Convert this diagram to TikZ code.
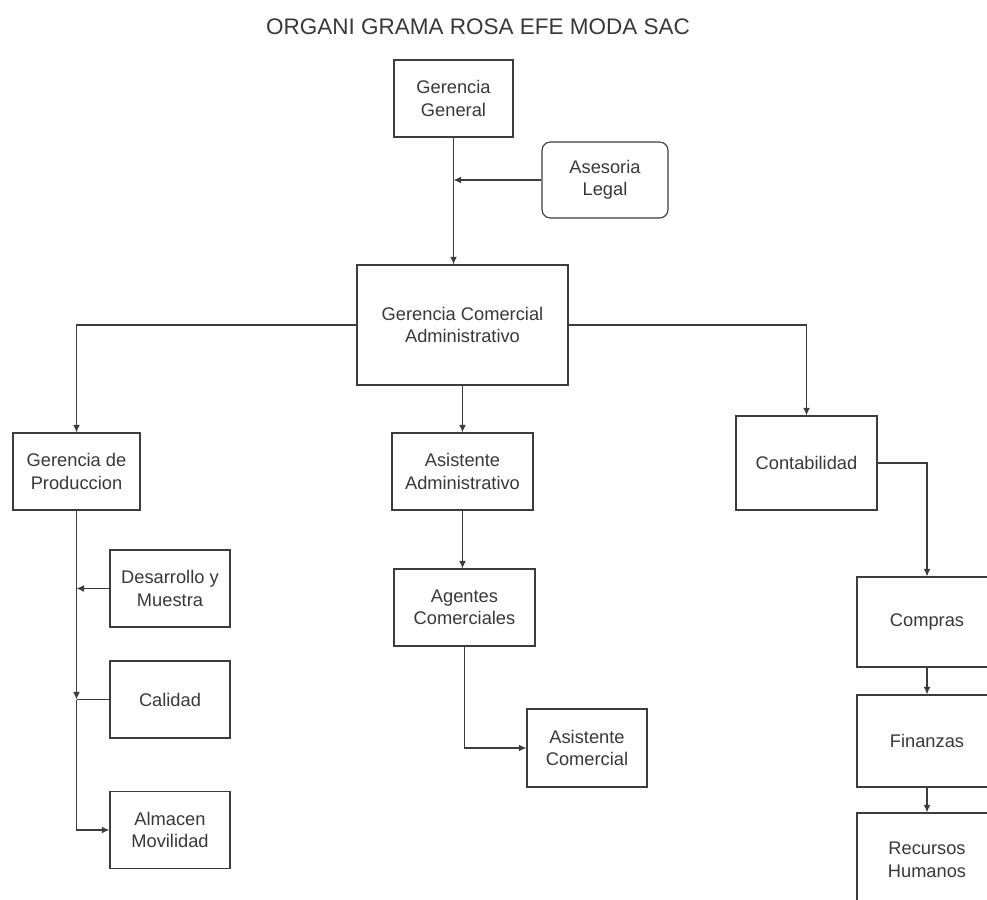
\documentclass[tikz,border=0pt]{standalone}
\usepackage{fontspec}
\setmainfont{Liberation Sans}
\usetikzlibrary{arrows.meta}
\definecolor{linegray}{HTML}{3C3C3C}
\definecolor{textgray}{HTML}{383838}

\begin{document}
\begin{tikzpicture}[x=0.025cm, y=-0.025cm,
    unit/.style ={rectangle, draw=linegray, line width=0.8pt, text=textgray, align=center, font=\fontsize{13}{16}\selectfont, inner sep=2pt},
    link/.style ={draw=linegray, line width=0.8pt, -{Latex[length=1.9mm,width=1.7mm]}},
    plain/.style ={draw=linegray, line width=0.8pt}]
   \useasboundingbox (0,0) rectangle (987,900);
   \clip (0,0) rectangle (987,900);
   \node[text=textgray, font=\fontsize{16}{19}\selectfont] (T) at (478,27) {ORGANI GRAMA ROSA EFE MODA SAC};
   \node[unit, minimum width=2.975cm, minimum height=1.925cm] (GG) at (453.5,98.5) {Gerencia\\General};
   \node[unit, rounded corners=6pt, minimum width=3.15cm, minimum height=1.9cm] (AL) at (605,180) {Asesoria\\Legal};
   \node[unit, minimum width=5.275cm, minimum height=3cm] (GCA) at (462.5,325) {Gerencia Comercial\\Administrativo};
   \node[unit, minimum width=3.175cm, minimum height=1.925cm] (GP) at (76.5,471.5) {Gerencia de\\Produccion};
   \node[unit, minimum width=3.525cm, minimum height=1.925cm] (AA) at (462.5,471.5) {Asistente\\Administrativo};
   \node[unit, minimum width=3.525cm, minimum height=2.35cm] (CO) at (806.5,463) {Contabilidad};
   \node[unit, minimum width=3cm, minimum height=1.925cm] (DM) at (170,588.5) {Desarrollo y\\Muestra};
   \node[unit, minimum width=3cm, minimum height=1.925cm] (CA) at (170,699.5) {Calidad};
   \node[unit, minimum width=3cm, minimum height=1.925cm] (AM) at (170,830) {Almacen\\Movilidad};
   \node[unit, minimum width=3.525cm, minimum height=1.925cm] (AG) at (464.5,607.5) {Agentes\\Comerciales};
   \node[unit, minimum width=3cm, minimum height=1.95cm] (AC) at (587,748) {Asistente\\Comercial};
   \node[unit, minimum width=3.5cm, minimum height=2.25cm] (CP) at (927,622) {Compras};
   \node[unit, minimum width=3.5cm, minimum height=2.3cm] (FI) at (927,741) {Finanzas};
   \node[unit, minimum width=3.5cm, minimum height=2.35cm] (RH) at (927,860) {Recursos\\Humanos};
   \coordinate (jl) at (GG.south |- AL.west);
   \coordinate (jd) at (GP.south |- DM.west);
   \coordinate (jc) at (GP.south |- CA.west);
   \draw[link] (GG.south) -- (GG.south |- GCA.north);
   \draw[link] (AL.west) -- (jl);
   \draw[link] (GCA.west) -| (GP.north);
   \draw[link] (GCA.east) -| (CO.north);
   \draw[link] (GCA.south) -- (AA.north);
   \draw[link] (AA.south) -- (AA.south |- AG.north);
   \draw[link] (AG.south) |- (AC.west);
   \draw[link] (CO.east) -| (CP.north);
   \draw[link] (CP.south) -- (FI.north);
   \draw[link] (FI.south) -- (RH.north);
   \draw[link] (GP.south) -- (jc);
      \draw[link] (DM.west) -- (jd);
   \draw[plain] (CA.west) -- (jc);
   \draw[link] (jc) |- (AM.west);
 \end{tikzpicture}
\end{document}
